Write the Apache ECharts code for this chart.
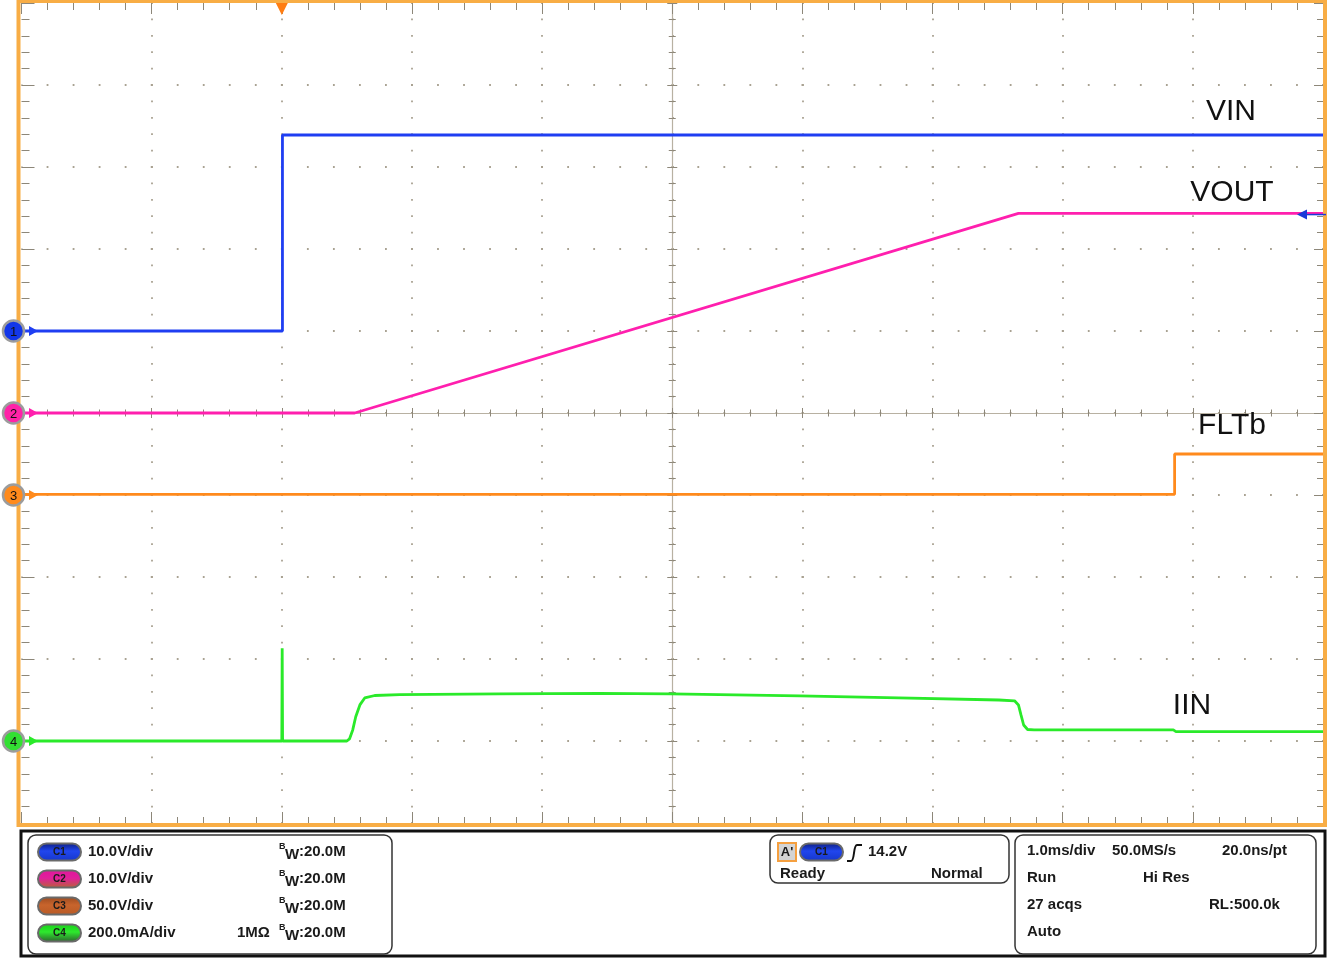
<!DOCTYPE html>
<html><head><meta charset="utf-8">
<script src="https://cdn.jsdelivr.net/npm/echarts@6/dist/echarts.min.js"></script>
<style>html,body{margin:0;padding:0;background:#fff;}#c{width:1333px;height:958px;}</style>
</head><body><div id="c"></div>
<script>
// ---- data (time in ms, values in channel units) ----
const channelNames = ['VIN', 'VOUT', 'FLTb', 'IIN'];
const unitsPerDiv = [10, 10, 50, 200];      // V/div, V/div, V/div, mA/div
const groundDiv = [6, 5, 4, 1];             // ground marker position (div from bottom)
const triggerLevel = 14.2;                  // V on C1
const timeMin = -2, timeMax = 8;            // ms, 1 ms/div

const vinT = [-2, 0.005, 0.005, 8];
const vinV = [0, 0, 23.9, 23.9];
const voutT = [-2, 0.56, 5.66, 8];
const voutV = [0, 0, 24.35, 24.35];
const fltT = [-2, 6.86, 6.86, 8];
const fltV = [0.4, 0.4, 25.0, 25.0];
const iinT = [-2, 0, 0.003, 0.006, 0.50, 0.52, 0.545, 0.568, 0.60, 0.637, 0.714, 0.906, 1.67, 2.44, 2.99, 3.98, 4.74, 5.51, 5.63, 5.66, 5.68, 5.70, 5.73, 5.78, 6.28, 6.85, 6.87, 8];
const iinV = [0, 0, 226, 0, 0, 5, 27, 59, 88, 105, 111, 113, 115, 116, 115, 110, 105, 100, 98, 88, 63, 39, 28, 27, 27, 27, 23, 23];

const chScaleText = ['10.0V/div', '10.0V/div', '50.0V/div', '200.0mA/div'];
const bwText = ':20.0M';
const trigText = ['14.2V', 'Ready', 'Normal'];
const timebaseRows = [['1.0ms/div', '50.0MS/s', '20.0ns/pt'], ['Run', 'Hi Res', ''], ['27 acqs', '', 'RL:500.0k'], ['Auto', '', '']];

const colors = ['#1f3ef2', '#ff1fae', '#ff8a1c', '#2aea2a'];
const markerFill = ['#1236e8', '#ff22a8', '#ff8a1c', '#33e033'];

function toDiv(ch, v) { return groundDiv[ch] + v / unitsPerDiv[ch]; }
function build(ch, T, V) { return T.map((t, i) => [t, toDiv(ch, V[i])]); }

const tickC = '#8d8779', dotC = '#a9a292', lineC = '#b8b1a2';
const FONT = "'Liberation Sans', Arial, sans-serif";

function xAx(pos, offset, inside, len, mlen, split, line) {
  return {
    type: 'value', min: timeMin, max: timeMax, interval: 1, position: pos, offset: offset,
    axisLine: { show: !!line, onZero: false, lineStyle: { color: lineC, width: 1.2 } },
    axisTick: { show: true, inside: inside, length: len, lineStyle: { color: tickC, width: 1 } },
    minorTick: { show: true, splitNumber: 5, length: mlen, lineStyle: { color: tickC, width: 1 } },
    axisLabel: { show: false },
    splitLine: { show: !!split, showMinLine: false, showMaxLine: false,
      lineStyle: { color: dotC, width: 1.8, type: [1.8, 14.6], dashOffset: 0.9 } }
  };
}
function yAx(pos, offset, inside, len, mlen, split, line) {
  return {
    type: 'value', min: 0, max: 10, interval: 1, position: pos, offset: offset,
    axisLine: { show: !!line, onZero: false, lineStyle: { color: lineC, width: 1.2 } },
    axisTick: { show: true, inside: inside, length: len, lineStyle: { color: tickC, width: 1 } },
    minorTick: { show: true, splitNumber: 5, length: mlen, lineStyle: { color: tickC, width: 1 } },
    axisLabel: { show: false },
    splitLine: { show: !!split, showMinLine: false, showMaxLine: false,
      lineStyle: { color: dotC, width: 1.8, type: [1.8, 24.23], dashOffset: 0.9 } }
  };
}

const chart = echarts.init(document.getElementById('c'), null, { renderer: 'canvas' });
const G = { left: 21.5, top: 3, width: 1301.5, height: 820 };

function line(name, ch, data) {
  return { name: name, type: 'line', xAxisIndex: 0, yAxisIndex: 0, data: data, showSymbol: false,
    symbol: 'none', animation: false, lineStyle: { color: colors[ch], width: 2.8 }, z: 5 };
}

chart.setOption({
  animation: false,
  backgroundColor: '#ffffff',
  grid: Object.assign({ show: false }, G),
  xAxis: [
    xAx('bottom', 0, true, 11, 6, true, false),
    xAx('top', 0, true, 11, 7, false, false),
    xAx('bottom', -410, true, 5, 3.5, false, true),
    xAx('bottom', -410, false, 5, 3.5, false, false)
  ],
  yAxis: [
    yAx('left', 0, true, 13, 8, true, false),
    yAx('right', 0, true, 9, 6, false, false),
    yAx('left', -650.75, true, 5, 3.5, false, true),
    yAx('left', -650.75, false, 5, 3.5, false, false)
  ],
  series: [
    line(channelNames[3], 3, build(3, iinT, iinV)),
    line(channelNames[2], 2, build(2, fltT, fltV)),
    line(channelNames[1], 1, build(1, voutT, voutV)),
    line(channelNames[0], 0, build(0, vinT, vinV))
  ]
});

function px(t, d) { return chart.convertToPixel({ xAxisIndex: 0, yAxisIndex: 0 }, [t, d]); }

const g = [];
// orange frame
g.push({ type: 'rect', shape: { x: 18.5, y: 1, width: 1306.5, height: 824 }, style: { fill: null, stroke: '#f8ad45', lineWidth: 4 }, z: 10 });
// trigger position marker
const tp = px(0, 10);
g.push({ type: 'polygon', shape: { points: [[tp[0] - 6, 3], [tp[0] + 6, 3], [tp[0], 15]] }, style: { fill: '#ff7d12' }, z: 12 });
// trigger level marker (C1)
const tl = px(timeMax, toDiv(0, triggerLevel));
g.push({ type: 'line', shape: { x1: tl[0] - 16, y1: tl[1], x2: tl[0] + 3, y2: tl[1] }, style: { stroke: '#1a3ad8', lineWidth: 1.5 }, z: 12 });
g.push({ type: 'polygon', shape: { points: [[tl[0] - 26, tl[1]], [tl[0] - 16, tl[1] - 5], [tl[0] - 16, tl[1] + 5]] }, style: { fill: '#1a3ad8' }, z: 12 });
// channel ground markers
for (let ch = 0; ch < 4; ch++) {
  const p = px(timeMin, groundDiv[ch]);
  const y = p[1];
  g.push({ type: 'line', shape: { x1: 22, y1: y, x2: 32, y2: y }, style: { stroke: colors[ch], lineWidth: 2 }, z: 12 });
  g.push({ type: 'polygon', shape: { points: [[29, y - 5], [38, y], [29, y + 5]] }, style: { fill: colors[ch] }, z: 12 });
  g.push({ type: 'circle', shape: { cx: 13.5, cy: y, r: 10.5 }, style: { fill: markerFill[ch], stroke: '#9c9c9c', lineWidth: 2.5 }, z: 13 });
  g.push({ type: 'text', x: 13.5, y: y + 1, style: { text: String(ch + 1), fill: '#111', fontSize: 13, fontFamily: FONT, align: 'center', verticalAlign: 'middle' }, z: 14 });
}
// trace labels
const labelPos = [[1231, 112], [1232, 193], [1232, 426], [1192, 706]];
for (let ch = 0; ch < 4; ch++) {
  g.push({ type: 'text', x: labelPos[ch][0], y: labelPos[ch][1], style: { text: channelNames[ch], fill: '#111', fontSize: 30, fontFamily: FONT, align: 'center', verticalAlign: 'middle' }, z: 14 });
}

// ---- bottom status panel ----
function T(x, y, text, o) {
  o = o || {};
  return { type: 'text', x: x, y: y, style: { text: text, fill: '#1a1a1a', fontSize: o.size || 15, fontWeight: o.w || 'bold', fontFamily: FONT, align: o.align || 'left', verticalAlign: 'middle' }, z: 20 };
}
function badge(x, y, label, top, mid, bot) {
  g.push({ type: 'rect', shape: { x: x, y: y - 8.5, width: 43, height: 17, r: 8.5 },
    style: { fill: new echarts.graphic.LinearGradient(0, 0, 0, 1, [{ offset: 0, color: top }, { offset: 0.45, color: mid }, { offset: 1, color: bot }]), stroke: '#6a6a6a', lineWidth: 2 }, z: 20 });
  g.push(T(x + 21.5, y + 0.5, label, { size: 10, w: 'bold', align: 'center' }));
}
g.push({ type: 'rect', shape: { x: 21, y: 831, width: 1304, height: 125 }, style: { fill: '#fff', stroke: '#111', lineWidth: 3 }, z: 18 });
g.push({ type: 'rect', shape: { x: 28, y: 835, width: 364, height: 119, r: 8 }, style: { fill: '#fff', stroke: '#333', lineWidth: 1.5 }, z: 19 });
g.push({ type: 'rect', shape: { x: 770, y: 835, width: 239, height: 48, r: 8 }, style: { fill: '#fff', stroke: '#333', lineWidth: 1.5 }, z: 19 });
g.push({ type: 'rect', shape: { x: 1015, y: 835, width: 301, height: 119, r: 8 }, style: { fill: '#fff', stroke: '#333', lineWidth: 1.5 }, z: 19 });

const rowsY = [852, 879, 906, 933];
const badgeCols = [['#0c1c7a', '#2146ee', '#1536c8'], ['#e0169a', '#e0209c', '#b86432'], ['#9a4a20', '#c8642c', '#b85a26'], ['#18d018', '#2ee82e', '#2e5a2e']];
for (let i = 0; i < 4; i++) {
  badge(38, rowsY[i], 'C' + (i + 1), badgeCols[i][0], badgeCols[i][1], badgeCols[i][2]);
  g.push(T(88, rowsY[i], chScaleText[i]));
  g.push(T(279, rowsY[i] - 5, 'B', { size: 9 }));
  g.push(T(285, rowsY[i] + 3, 'W'));
  g.push(T(299, rowsY[i], bwText));
}
g.push(T(237, rowsY[3], '1MΩ'));

// trigger box
g.push({ type: 'rect', shape: { x: 778, y: 843, width: 18, height: 18 }, style: { fill: '#d4d4d4', stroke: '#f5a040', lineWidth: 2 }, z: 20 });
g.push(T(787, 852, "A'", { size: 13, align: 'center' }));
badge(800, 852, 'C1', '#0c1c7a', '#2146ee', '#1536c8');
g.push({ type: 'polyline', shape: { points: [[847, 861], [851, 861]] }, style: { fill: null, stroke: '#111', lineWidth: 2 }, z: 20 });
g.push({ type: 'bezierCurve', shape: { x1: 851, y1: 861, x2: 857, y2: 845, cpx1: 855, cpy1: 861, cpx2: 853, cpy2: 845 }, style: { fill: null, stroke: '#111', lineWidth: 2 }, z: 20 });
g.push({ type: 'polyline', shape: { points: [[857, 845], [862, 845]] }, style: { fill: null, stroke: '#111', lineWidth: 2 }, z: 20 });
g.push(T(868, 852, trigText[0]));
g.push(T(780, 874, trigText[1]));
g.push(T(931, 874, trigText[2]));

// timebase box
const tbX = [1027, 1112, 1222];
const tbX2 = [1027, 1143, 1209];
for (let r = 0; r < 4; r++) {
  for (let c = 0; c < 3; c++) {
    const s = timebaseRows[r][c];
    if (!s) continue;
    const x = (r === 0) ? tbX[c] : tbX2[c];
    g.push(T(x, rowsY[r] - 1, s));
  }
}

chart.setOption({ graphic: g });
</script>
</body></html>
